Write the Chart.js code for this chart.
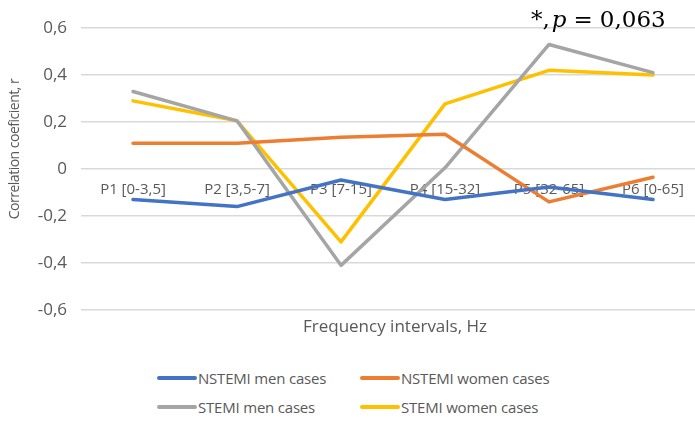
<!DOCTYPE html>
<html>
<head>
<meta charset="utf-8">
<script src="https://cdn.jsdelivr.net/npm/chart.js@4/dist/chart.umd.min.js"></script>
<style>
    html, body { margin: 0; padding: 0; background: #fff; overflow: hidden; }
    body { width: 695px; height: 423px; position: relative; font-family: "Open Sans", "Noto Sans", sans-serif; }
    .wrap { position: absolute; left: 0; top: 0; width: 710px; height: 345px; }
    .legend { position: absolute; left: 157px; top: 368px; display: grid; grid-template-columns: 203px 220px; row-gap: 9px; }
    .legend-item { display: flex; align-items: center; font-size: 15px; color: #595959; height: 20px; letter-spacing: -0.2px; }
    .legend-item span.swatch { display: inline-block; width: 40px; height: 4px; border-radius: 2px; margin-right: 1px; }
</style>
</head>
<body>
<div class="wrap"><canvas id="chart"></canvas></div>
<div class="legend" id="legend"></div>
<script>
const categories = ['P1 [0-3,5]', 'P2 [3,5-7]', 'P3 [7-15]', 'P4 [15-32]', 'P5 [32-65]', 'P6 [0-65]'];
const seriesNames = ['NSTEMI men cases', 'NSTEMI women cases', 'STEMI men cases', 'STEMI women cases'];
const nstemiMen = [-0.13, -0.16, -0.047, -0.13, -0.077, -0.13];
const nstemiWomen = [0.11, 0.11, 0.135, 0.148, -0.14, -0.035];
const stemiMen = [0.33, 0.205, -0.41, 0.005, 0.53, 0.41];
const stemiWomen = [0.29, 0.205, -0.31, 0.277, 0.42, 0.40];
const seriesColors = ['#4472c4', '#ed7d31', '#a5a5a5', '#ffc000'];
const yTicks = [-0.6, -0.4, -0.2, 0, 0.2, 0.4, 0.6];

const textColor = '#595959';
const allSeries = [nstemiMen, nstemiWomen, stemiMen, stemiWomen];

// axis titles and the p-value note, drawn on top
const extraText = {
    id: 'extraText',
    afterDraw(chart) {
        const ctx = chart.ctx;
        ctx.save();
        ctx.fillStyle = textColor;
        ctx.textAlign = 'center';
        ctx.textBaseline = 'middle';
        ctx.font = '17px "Open Sans", "Noto Sans", sans-serif';
        ctx.fillText('Frequency intervals, Hz', 395, 327);

        ctx.font = '14px "Open Sans", "Noto Sans", sans-serif';
        ctx.letterSpacing = '-0.5px';
        ctx.translate(15, 149);
        ctx.rotate(-Math.PI / 2);
        ctx.fillText('Correlation coeficient, r', 0, 0);
        ctx.restore();

        // *, p = 0,063
        ctx.save();
        ctx.fillStyle = '#000';
        ctx.textBaseline = 'alphabetic';
        ctx.textAlign = 'left';
        let x = 531;
        const base = 27;
        const serif = '"DejaVu Serif", "Liberation Serif", serif';
        ctx.font = '23px ' + serif;
        ctx.fillText('*,', x, base);
        x += ctx.measureText('*,').width + 2;
        ctx.font = 'italic 23px ' + serif;
        ctx.fillText('p', x, base);
        x += ctx.measureText('p').width + 7;
        ctx.font = '23px ' + serif;
        ctx.fillText('=', x, base);
        x += ctx.measureText('=').width + 7;
        ctx.fillText('0,063', x, base);
        ctx.restore();
    }
};

new Chart(document.getElementById('chart'), {
    type: 'line',
    data: {
        labels: categories,
        datasets: allSeries.map((vals, i) => ({
            label: seriesNames[i],
            data: vals,
            borderColor: seriesColors[i],
            backgroundColor: seriesColors[i],
            borderWidth: 3.5,
            pointRadius: 0,
            tension: 0,
            borderJoinStyle: 'round',
            borderCapStyle: 'round'
        }))
    },
    options: {
        responsive: true,
        maintainAspectRatio: false,
        animation: false,
        layout: {padding: {top: 28, bottom: 35, right: 5, left: 0}},
        plugins: {
            legend: {display: false},
            tooltip: {enabled: false}
        },
        scales: {
            x: {
                position: {y: 0},
                offset: true,
                grid: {display: false, drawTicks: false},
                border: {display: false},
                ticks: {color: textColor, font: {size: 15, family: '"Open Sans", "Noto Sans", sans-serif'}, padding: 12, maxRotation: 0, autoSkip: false}
            },
            y: {
                min: -0.6,
                max: 0.6,
                afterBuildTicks: s => { s.ticks = yTicks.map(v => ({value: v})); },
                afterFit: s => { s.width = 81; },
                grid: {color: '#d9d9d9', lineWidth: 1.5, drawTicks: false},
                border: {display: false},
                ticks: {
                    color: textColor,
                    padding: 14,
                    font: {size: 17, family: '"Open Sans", "Noto Sans", sans-serif'},
                    callback: v => v === 0 ? '0' : v.toFixed(1).replace('.', ',')
                }
            }
        }
    },
    plugins: [extraText]
});

const legend = document.getElementById('legend');
seriesNames.forEach((name, i) => {
    const item = document.createElement('div');
    item.className = 'legend-item';
    item.innerHTML = `<span class="swatch" style="background:${seriesColors[i]}"></span>${name}`;
    legend.appendChild(item);
});
</script>
</body>
</html>
